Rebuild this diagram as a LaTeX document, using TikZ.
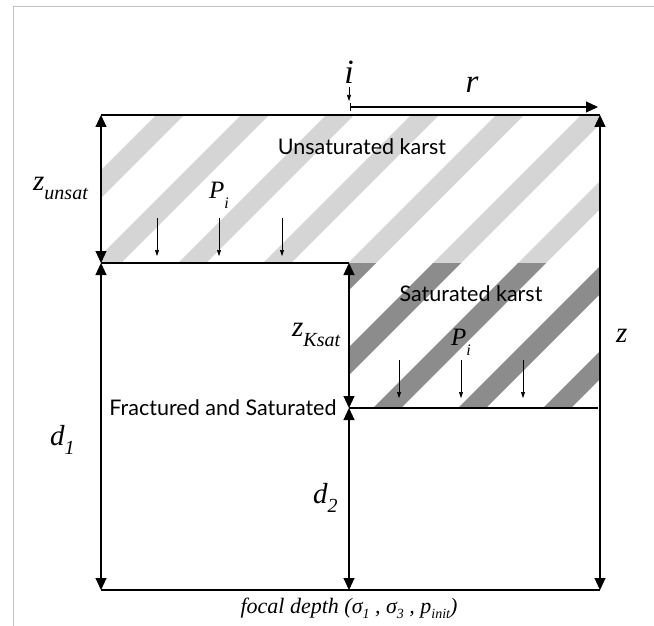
\documentclass[tikz,border=0pt]{standalone}
\usepackage{fontspec}
\setmainfont{Liberation Serif}
\newfontfamily\labsans{Lato}
\usetikzlibrary{arrows.meta}
\definecolor{lightstripe}{RGB}{213,213,213}
\definecolor{darkstripe}{RGB}{140,140,140}
\definecolor{framegray}{RGB}{195,195,195}
\newcommand\myfs[1]{\fontsize{#1}{#1}\selectfont}
\begin{document}
\begin{tikzpicture}[x=1pt,y=-1pt,
  dim/.style={line width=1.1pt,{Triangle[length=12pt,width=11pt]}-{Triangle[length=12pt,width=11pt]}},
  edge/.style={line width=1.1pt},
  flow/.style={line width=0.6pt,-{Triangle[length=6pt,width=4pt]}},
  region/.style={font=\labsans\myfs{21.5}, inner sep=0pt},
  sym/.style={inner sep=0pt, font=\itshape\myfs{29}, anchor=base west},
  psym/.style={inner sep=0pt, font=\itshape\myfs{25}, anchor=base west},
]
\useasboundingbox (0,0) rectangle (654,626);
\fill[white] (0,0) rectangle (654,626);
\draw[framegray, line width=1pt] (13,626) -- (13,7) -- (654,7);

% stripes
\begin{scope}
  \clip (101,115) rectangle (600,263);
  \foreach \a in {186,271,...,1036}
    \fill[lightstripe] (\a,0) -- (\a+28,0) -- (\a+28-700,700) -- (\a-700,700) -- cycle;
\end{scope}
\begin{scope}
  \clip (349,263) rectangle (600,408);
  \foreach \a in {186,271,...,1036}
    \fill[darkstripe] (\a,0) -- (\a+28,0) -- (\a+28-700,700) -- (\a-700,700) -- cycle;
\end{scope}

% coordinates
\coordinate (tl) at (101,115);
\coordinate (tr) at (600,115);
\coordinate (ml) at (101,263);
\coordinate (mc) at (349,263);
\coordinate (rc) at (349,408);
\coordinate (rr) at (598,408);
\coordinate (bl) at (101,590);
\coordinate (bc) at (349,590);
\coordinate (br) at (600,590);

% horizontal boundaries
\draw[edge] (tl) -- (tr);
\draw[edge] (ml) -- (mc);
\draw[edge] (rc) -- (rr);
\draw[edge] (bl) -- (br);

% dimension arrows
\draw[dim] (tl) -- (ml);
\draw[dim] (ml) -- (bl);
\draw[dim] (mc) -- (rc);
\draw[dim] (rc) -- (bc);
\draw[dim] (tr) -- (br);

% r arrow
\coordinate (rs) at (350,107);
\coordinate (re) at (598,107);
\draw[line width=1.1pt,{Bar[width=8pt]}-{Triangle[length=12pt,width=11pt]}] (rs) -- (re);
\node[sym, anchor=base, font=\itshape\myfs{33}] (rlab) at (472,93) {r};

% i arrow
\node[sym, anchor=base, font=\itshape\myfs{34}] (ilab) at (349,84) {i};
\coordinate (itop) at (349,87);
\coordinate (itip) at (349,101);
\draw[flow] (itop) -- (itip);

% region labels
\node[region] (unsat) at (362,147) {Unsaturated karst};
\node[region] (sat) at (471,294) {Saturated karst};
\node[region] (frac) at (223,408) {Fractured and Saturated};

% symbols
\node[sym] (zunsat) at (33,190) {z\raisebox{-9pt}{\myfs{20}unsat}};
\node[sym] (zksat) at (292,336) {z\raisebox{-10pt}{\myfs{20}Ksat}};
\node[sym] (zlab) at (616,342) {z};
\node[sym] (d1) at (50,445) {d\raisebox{-9pt}{\myfs{20}1}};
\node[sym] (d2) at (313,503) {d\raisebox{-9pt}{\myfs{20}2}};
\node[psym] (p1) at (209,198) {P\raisebox{-10pt}{\myfs{16}i}};
\node[psym] (p2) at (451,345) {P\raisebox{-10pt}{\myfs{16}i}};

% infiltration arrows
\foreach \x/\n in {157/a,219/b,282/c} {
  \coordinate (ut\n) at (\x,218);
  \coordinate (ub\n) at (\x,256);
  \draw[flow] (ut\n) -- (ub\n);
}
\foreach \x/\n in {399/a,461/b,523/c} {
  \coordinate (st\n) at (\x,360);
  \coordinate (sb\n) at (\x,398);
  \draw[flow] (st\n) -- (sb\n);
}

% focal depth
\node[inner sep=0pt, font=\itshape\myfs{22}] (focal) at (349,608)
  {focal depth (σ\raisebox{-5pt}{\myfs{14}1} , σ\raisebox{-5pt}{\myfs{14}3} , p\raisebox{-5pt}{\myfs{14}init})};
\end{tikzpicture}
\end{document}
